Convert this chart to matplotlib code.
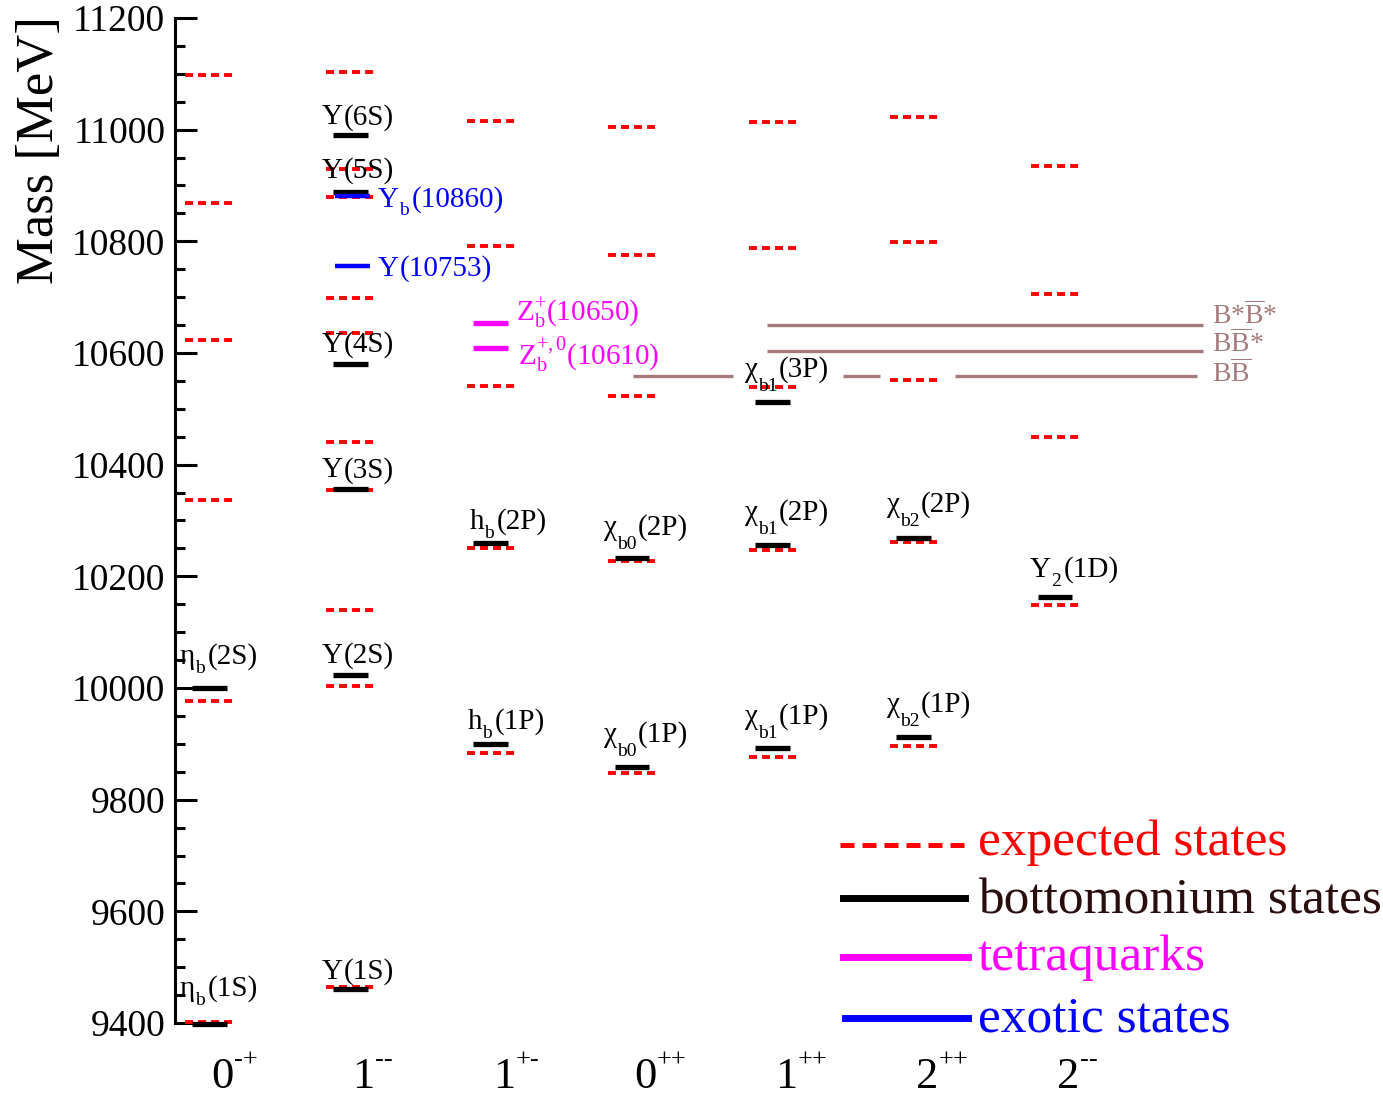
import matplotlib
matplotlib.use("Agg")
import matplotlib.pyplot as plt
from matplotlib.lines import Line2D
from matplotlib.ticker import MultipleLocator

plt.rcParams["font.family"] = ["Liberation Serif", "DejaVu Serif"]
plt.rcParams["mathtext.fontset"] = "custom"
plt.rcParams["mathtext.rm"] = "Liberation Serif"
plt.rcParams["mathtext.it"] = "Liberation Serif:italic"
plt.rcParams["mathtext.bf"] = "Liberation Serif:bold"

# ---- J^PC columns ----
jpc_base = ["0", "1", "1", "0", "1", "2", "2"]
jpc_sup = ["-+", "--", "+-", "++", "++", "++", "--"]

# ---- expected (predicted) states per column [MeV] ----
exp_0mp = [11098, 10869, 10623, 10337, 9977, 9402]
exp_1mm = [11103, 10930, 10880, 10699, 10636, 10441, 10355, 10140, 10004, 9464]
exp_1pm = [11016, 10792, 10541, 10251, 9884]
exp_0pp = [11005, 10776, 10523, 10228, 9848]
exp_1pp = [11014, 10788, 10539, 10247, 9876]
exp_2pp = [11023, 10799, 10552, 10262, 9896]
exp_2mm = [10935, 10706, 10450, 10149]
expected = [exp_0mp, exp_1mm, exp_1pm, exp_0pp, exp_1pp, exp_2pp, exp_2mm]

# ---- observed bottomonium states: (symbol, subscript, quantum numbers) ----
bb_names = [("η", "b", "(1S)"), ("η", "b", "(2S)"),
            ("Υ", "", "(1S)"), ("Υ", "", "(2S)"), ("Υ", "", "(3S)"),
            ("Υ", "", "(4S)"), ("Υ", "", "(5S)"), ("Υ", "", "(6S)"),
            ("h", "b", "(1P)"), ("h", "b", "(2P)"),
            ("χ", "b0", "(1P)"), ("χ", "b0", "(2P)"),
            ("χ", "b1", "(1P)"), ("χ", "b1", "(2P)"), ("χ", "b1", "(3P)"),
            ("χ", "b2", "(1P)"), ("χ", "b2", "(2P)"),
            ("Υ", "2", "(1D)")]
bb_col = [0, 0, 1, 1, 1, 1, 1, 1, 2, 2, 3, 3, 4, 4, 4, 5, 5, 6]
bb_mass = [9399, 10000, 9461, 10023, 10356, 10580, 10889, 10990,
           9900, 10260, 9859, 10233, 9893, 10256, 10512, 9912, 10269, 10163]

# ---- tetraquark candidates ----
tq_names = [r"$\mathrm{Z}_\mathrm{b}^{+}$(10650)", r"$\mathrm{Z}_\mathrm{b}^{+,0}$(10610)"]
tq_col = [2, 2]
tq_mass = [10654, 10609]

# ---- exotic vector states ----
ex_names = [("Υ", "b", "(10860)"), ("Υ", "", "(10753)")]
ex_col = [1, 1]
ex_mass = [10881, 10756]

# ---- open-bottom thresholds ----
th_names = [r"B*$\overline{\mathrm{B}}$*", r"B$\overline{\mathrm{B}}$*", r"B$\overline{\mathrm{B}}$"]
th_mass = [10650, 10604, 10559]

# ---------------------------------------------------------------------------
W, H = 1383, 1095
fig = plt.figure(figsize=(W / 100, H / 100), dpi=100)
ax = fig.add_axes([175 / W, 1 - 1023 / H, 1 - 175 / W, (1023 - 18) / H])
renderer = fig.canvas.get_renderer()

PX = 141.0  # pixels per column
x0 = 209.0  # pixel position of first column
ax.set_xlim((175 - x0) / PX, (W - x0) / PX)
ax.set_ylim(9400, 11200)


def px2idx(dpx):
    return dpx / PX


RED = "#ff0000"
BLACK = "#000000"
MAG = "#ff00ff"
BLUE = "#0000ff"
THR = "#a57a7a"

# expected states: red dashed
for i, col in enumerate(expected):
    hw = px2idx(24)
    ax.hlines(col, i - hw, i + hw, colors=RED, linewidth=2.8,
              linestyles=[(0, (2.05, 1.3))], zorder=2, clip_on=False)

# observed bottomonium
hw = px2idx(17.5)
for c, m in zip(bb_col, bb_mass):
    ax.hlines(m, c - hw, c + hw, colors=BLACK, linewidth=3.8, zorder=3, clip_on=False)

# tetraquarks
for c, m in zip(tq_col, tq_mass):
    ax.hlines(m, c - hw, c + hw, colors=MAG, linewidth=3.8, zorder=3)

# exotic states
for c, m in zip(ex_col, ex_mass):
    ax.hlines(m, c - hw + px2idx(2), c + hw + px2idx(2), colors=BLUE, linewidth=3.2, zorder=4)

# thresholds (BB̄ line broken around labels)
th_segments = [
    [((767 - x0) / PX, (1203 - x0) / PX)],
    [((767 - x0) / PX, (1203 - x0) / PX)],
    [((633 - x0) / PX, (733 - x0) / PX), ((843 - x0) / PX, (880 - x0) / PX),
     ((955 - x0) / PX, (1197 - x0) / PX)],
]
for m, segs in zip(th_mass, th_segments):
    for a, b in segs:
        ax.hlines(m, a, b, colors=THR, linewidth=2.4, zorder=2)


def put(text, col, mass, dx_px, dy_px, color, size=21):
    return ax.annotate(text, xy=(col, mass), xytext=(dx_px * 0.72, dy_px * 0.72),
                       textcoords="offset points", ha="left", va="baseline",
                       color=color, fontsize=size, zorder=5, annotation_clip=False)


def put_state(parts, col, mass, dx_px, dy_px, color, sub_drop=9, gap=3):
    """Symbol, lowered subscript and quantum numbers written one after another."""
    sym, sub, rest = parts
    x = dx_px
    t = put(sym, col, mass, x, dy_px, color)
    x += t.get_window_extent(renderer).width
    if sub:
        t = put(sub, col, mass, x, dy_px - sub_drop, color, size=14)
        x += t.get_window_extent(renderer).width + gap
    else:
        x += 1
    put(rest, col, mass, x, dy_px, color)


# label offsets (pixels) for the bottomonium states
bb_off = [(-29, 28), (-29, 24),
          (-28, 10), (-28, 12), (-28, 12), (-28, 12), (-28, 14), (-28, 11),
          (-23, 15), (-21, 14),
          (-28, 25), (-28, 23),
          (-28, 24), (-28, 25), (-28, 25),
          (-27, 25), (-27, 26),
          (-25, 20)]
for name, c, m, (dx, dy) in zip(bb_names, bb_col, bb_mass, bb_off):
    drop = 14 if name[0] == "χ" else 9
    put_state(name, c, m, dx, dy, BLACK, sub_drop=drop, gap=1 if name[0] == "χ" else 3)

for name, c, m, (dx, dy) in zip(tq_names, tq_col, tq_mass, [(25, 3), (27, -16)]):
    put(name, c, m, dx, dy, MAG)

for name, c, m, (dx, dy) in zip(ex_names, ex_col, ex_mass, [(28, -11), (28, -10)]):
    put_state(name, c, m, dx, dy, BLUE, sub_drop=8, gap=3)

for name, m, dy in zip(th_names, th_mass, [1, -1, -6]):
    put(name, (1212 - x0) / PX, m, 0, dy, THR, size=20)

# J^PC labels under the columns
for i, (b, s) in enumerate(zip(jpc_base, jpc_sup)):
    ax.annotate(b, xy=(i, 0), xycoords=("data", "axes fraction"),
                xytext=(1.5, -47), textcoords="offset points",
                ha="left", va="baseline", fontsize=32, annotation_clip=False)
    ax.annotate(s, xy=(i, 0), xycoords=("data", "axes fraction"),
                xytext=(18, -31), textcoords="offset points",
                ha="left", va="baseline", fontsize=19, annotation_clip=False)

# axes styling
for side in ("top", "right", "bottom"):
    ax.spines[side].set_visible(False)
ax.spines["left"].set_linewidth(2.2)
ax.set_xticks([])
ax.yaxis.set_major_locator(MultipleLocator(200))
ax.yaxis.set_minor_locator(MultipleLocator(50))
ax.tick_params(axis="y", which="major", direction="in", length=16, width=2.2,
               labelsize=27, pad=7)
ax.tick_params(axis="y", which="minor", direction="in", length=7, width=2.2)

fig.text(40 / W, 1 - 16 / H, "Mass [MeV]", rotation=90, ha="center", va="top",
         fontsize=38)


# legend drawn in figure coordinates
def fx(p):
    return p / W


def fy(p):
    return 1 - p / H


leg = [
    ((840, 965), 845, RED, 3.6, (0, (2.8, 1.6)), "expected states", 855, RED),
    ((843, 965), 898, BLACK, 5.0, "-", "bottomonium states", 913, "#2a0e0e"),
    ((843, 968), 957, MAG, 5.0, "-", "tetraquarks", 970, MAG),
    ((845, 968), 1018, BLUE, 5.0, "-", "exotic states", 1031, BLUE),
]
for (a, b), y, c, lw, ls, txt, ty, tc in leg:
    fig.add_artist(Line2D([fx(a), fx(b)], [fy(y), fy(y)], color=c, linewidth=lw,
                          linestyle=ls, transform=fig.transFigure))
    fig.text(fx(978), fy(ty), txt, color=tc, fontsize=37, ha="left", va="baseline")

fig.savefig("out.png", dpi=100)
